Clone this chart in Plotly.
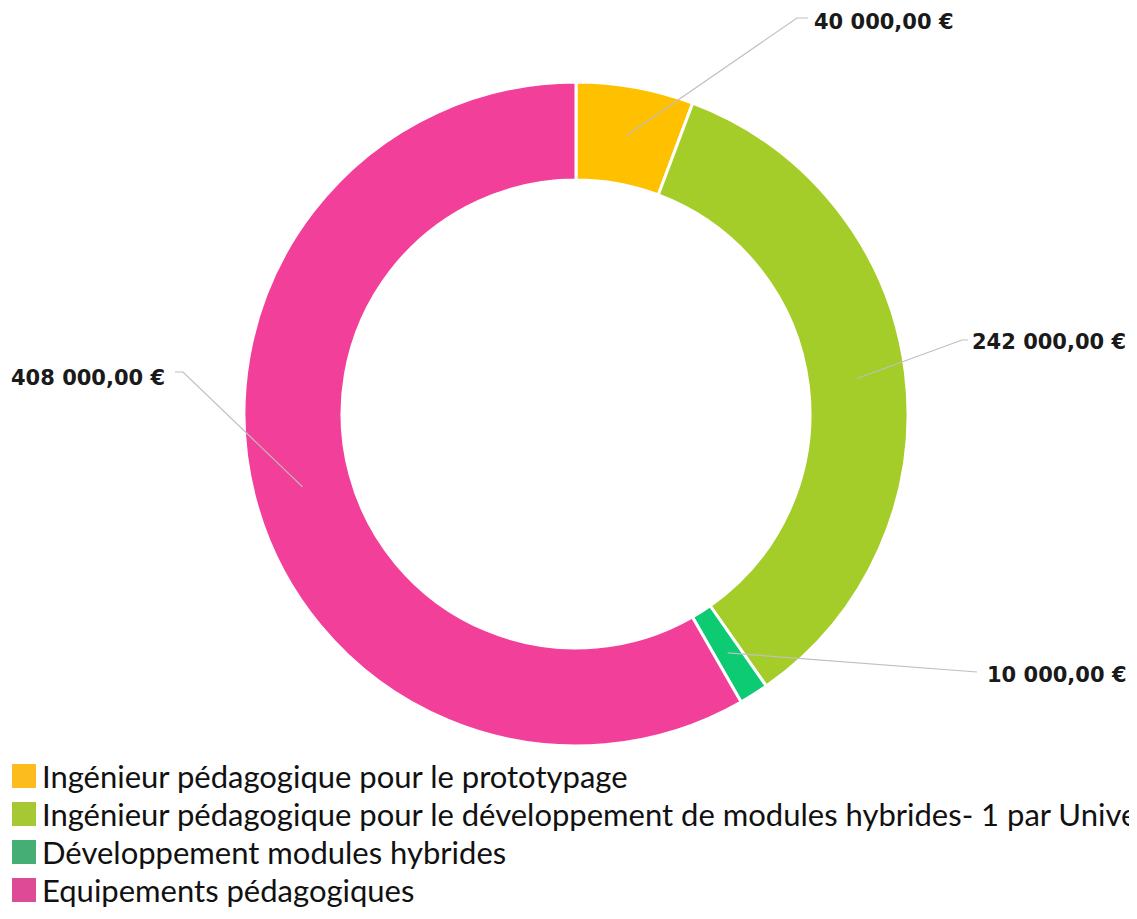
import plotly.graph_objects as go
import numpy as np

# data
categories = [
    "Ingénieur pédagogique pour le prototypage",
    "Ingénieur pédagogique pour le développement de modules hybrides- 1 par Université",
    "Développement modules hybrides",
    "Equipements pédagogiques",
]
values = [40000, 242000, 10000, 408000]
value_labels = ["40 000,00 €", "242 000,00 €", "10 000,00 €", "408 000,00 €"]

slice_colors = ["#FFC000", "#A5CD2A", "#0CCB72", "#F2409A"]
legend_colors = ["#FDBC1E", "#A6C832", "#45AE74", "#DE4A95"]

# the page body has an 8px margin, so the figure is drawn 8px in from the window
OFF = 8
W, H = 1137 - 2 * OFF, 919 - 2 * OFF
cx, cy = 576, 414          # donut centre, window px
r_out, r_in = 332, 234     # radii, px

# leader line elbows and label anchors (window px)
elbows = [[(797, 18), (808, 18)], [(962, 340), (968, 340)], [(977, 672)], [(183, 372), (175, 372)]]
label_pos = [(812, 22, "left"), (970, 342, "left"), (985, 675, "left"), (167, 378, "right")]


def px(x):
    return (x - OFF) / W


def py(y):
    return 1 - (y - OFF) / H


fig = go.Figure()
fig.add_trace(go.Pie(
    labels=categories,
    values=values,
    hole=r_in / r_out,
    sort=False,
    direction="clockwise",
    rotation=0,
    textinfo="none",
    hoverinfo="label+value",
    marker=dict(colors=slice_colors, line=dict(color="white", width=3)),
    domain=dict(x=[px(cx - r_out), px(cx + r_out)], y=[py(cy + r_out), py(cy - r_out)]),
    showlegend=False,
))

shapes = []
annotations = []

# leader lines from the middle of each ring segment
r_mid = (r_out + r_in) / 2
cum = np.cumsum([0] + values)
total = cum[-1]
for i, v in enumerate(values):
    ang = (cum[i] + v / 2) / total * 2 * np.pi
    pts = [(cx + r_mid * np.sin(ang), cy - r_mid * np.cos(ang))] + elbows[i]
    path = "M " + " L ".join(f"{px(x):.5f},{py(y):.5f}" for x, y in pts)
    shapes.append(dict(type="path", path=path, xref="paper", yref="paper",
                       line=dict(color="#BFBFBF", width=1.2)))
    lx, ly, anchor = label_pos[i]
    annotations.append(dict(
        x=px(lx), y=py(ly), xref="paper", yref="paper", text=value_labels[i],
        showarrow=False, xanchor=anchor, yanchor="middle",
        font=dict(family="DejaVu Sans", size=21, color="#1A1A1A", weight="bold"),
    ))

# legend drawn by hand so the swatches can be as big as in the reference
leg_y0, leg_step = 776, 38
for i, name in enumerate(categories):
    y = leg_y0 + i * leg_step
    shapes.append(dict(type="rect", xref="paper", yref="paper",
                       x0=px(12), x1=px(36), y0=py(y + 12), y1=py(y - 12),
                       fillcolor=legend_colors[i], line=dict(width=0)))
    annotations.append(dict(
        x=px(40), y=py(y), xref="paper", yref="paper", text=name,
        showarrow=False, xanchor="left", yanchor="middle",
        font=dict(family="Lato", size=31, color="#111111"),
    ))

fig.update_layout(
    width=W,
    height=H,
    margin=dict(l=0, r=0, t=0, b=0),
    paper_bgcolor="white",
    plot_bgcolor="white",
    shapes=shapes,
    annotations=annotations,
)

fig.write_html("out.html")
